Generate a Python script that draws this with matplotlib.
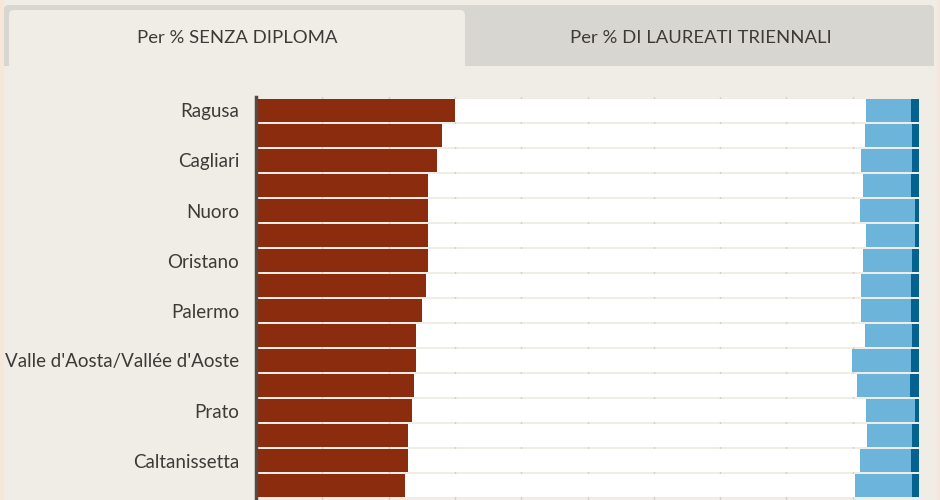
import matplotlib
matplotlib.use("Agg")
import matplotlib.pyplot as plt
from matplotlib.patches import FancyBboxPatch, Rectangle
import numpy as np

# ---- data ----
provinces = ["Ragusa", "", "Cagliari", "", "Nuoro", "", "Oristano", "",
             "Palermo", "", "Valle d'Aosta/Vallée d'Aoste", "", "Prato", "",
             "Caltanissetta", ""]
senza_diploma = [30.0, 28.1, 27.3, 26.0, 26.0, 26.0, 26.0, 25.7,
                 25.1, 24.1, 24.2, 23.9, 23.5, 23.0, 23.0, 22.5]
laurea_triennale = [6.8, 7.2, 7.7, 7.3, 8.3, 7.4, 7.5, 7.5,
                    7.5, 7.2, 8.9, 8.0, 7.4, 6.8, 7.7, 8.6]
altro_titolo = [1.2, 1.0, 1.0, 1.2, 0.65, 0.65, 1.0, 1.2,
                1.2, 1.0, 1.2, 1.4, 0.65, 1.0, 1.2, 1.0]
tabs = ["Per % SENZA DIPLOMA", "Per % DI LAUREATI TRIENNALI"]

PEACH = "#f8e7d8"
PANEL = "#f0ede7"
TABGREY = "#d8d6d1"
RED = "#8b2c0f"
LBLUE = "#6db4db"
DBLUE = "#03628f"
TEXT = "#3d3a38"
FONT = ["Lato", "DejaVu Sans"]

W, H = 940, 500
fig = plt.figure(figsize=(W / 100, H / 100), dpi=100)
fig.patch.set_facecolor(PEACH)

# background overlay in pixel coords
bg = fig.add_axes([0, 0, 1, 1], zorder=0)
bg.set_xlim(0, W)
bg.set_ylim(H, 0)
bg.axis("off")
bg.add_patch(Rectangle((4, 0), 933, H, facecolor=PANEL, edgecolor="none"))
bg.add_patch(FancyBboxPatch((4, 5), 930, 70, boxstyle="round,pad=0,rounding_size=5",
                            facecolor=TABGREY, edgecolor="none"))
bg.add_patch(FancyBboxPatch((9, 10), 456, 70, boxstyle="round,pad=0,rounding_size=5",
                            facecolor=PANEL, edgecolor="none"))
bg.add_patch(Rectangle((4, 66), 933, 20, facecolor=PANEL, edgecolor="none"))
bg.text(237, 38, tabs[0], ha="center", va="center", fontsize=13.3, color=TEXT, family=FONT)
bg.text(701, 38, tabs[1], ha="center", va="center", fontsize=13.3, color=TEXT, family=FONT)

# bar chart
ax = fig.add_axes([256 / W, 0, (919 - 256) / W, 403 / H], zorder=1)
ax.set_facecolor(PANEL)
y = np.arange(len(provinces))
sd = np.array(senza_diploma)
lt = np.array(laurea_triennale)
at = np.array(altro_titolo)
rest = 100 - sd - lt - at
h = 0.92
ax.barh(y, sd, height=h, color=RED, zorder=2)
ax.barh(y, rest, left=sd, height=h, color="white", zorder=2)
ax.barh(y, lt, left=sd + rest, height=h, color=LBLUE, zorder=2)
ax.barh(y, at, left=sd + rest + lt, height=h, color=DBLUE, zorder=2)

ax.set_xlim(0, 100)
ax.set_ylim(15.58, -0.54)
ax.set_xticks(np.arange(10, 101, 10))
ax.xaxis.grid(True, color="#d3cfc9", linewidth=1, zorder=0)
ax.set_axisbelow(True)
ax.tick_params(axis="x", length=0, labelbottom=False)
ax.set_yticks(y)
ax.set_yticklabels(provinces, fontsize=13.5, color=TEXT, family=FONT)
ax.tick_params(axis="y", length=0, pad=12)
for s in ["top", "right", "bottom"]:
    ax.spines[s].set_visible(False)
ax.spines["left"].set_color("#574840")
ax.spines["left"].set_linewidth(2.5)
ax.spines["left"].set_zorder(5)

fig.savefig("out.png", dpi=100, facecolor=PEACH)
